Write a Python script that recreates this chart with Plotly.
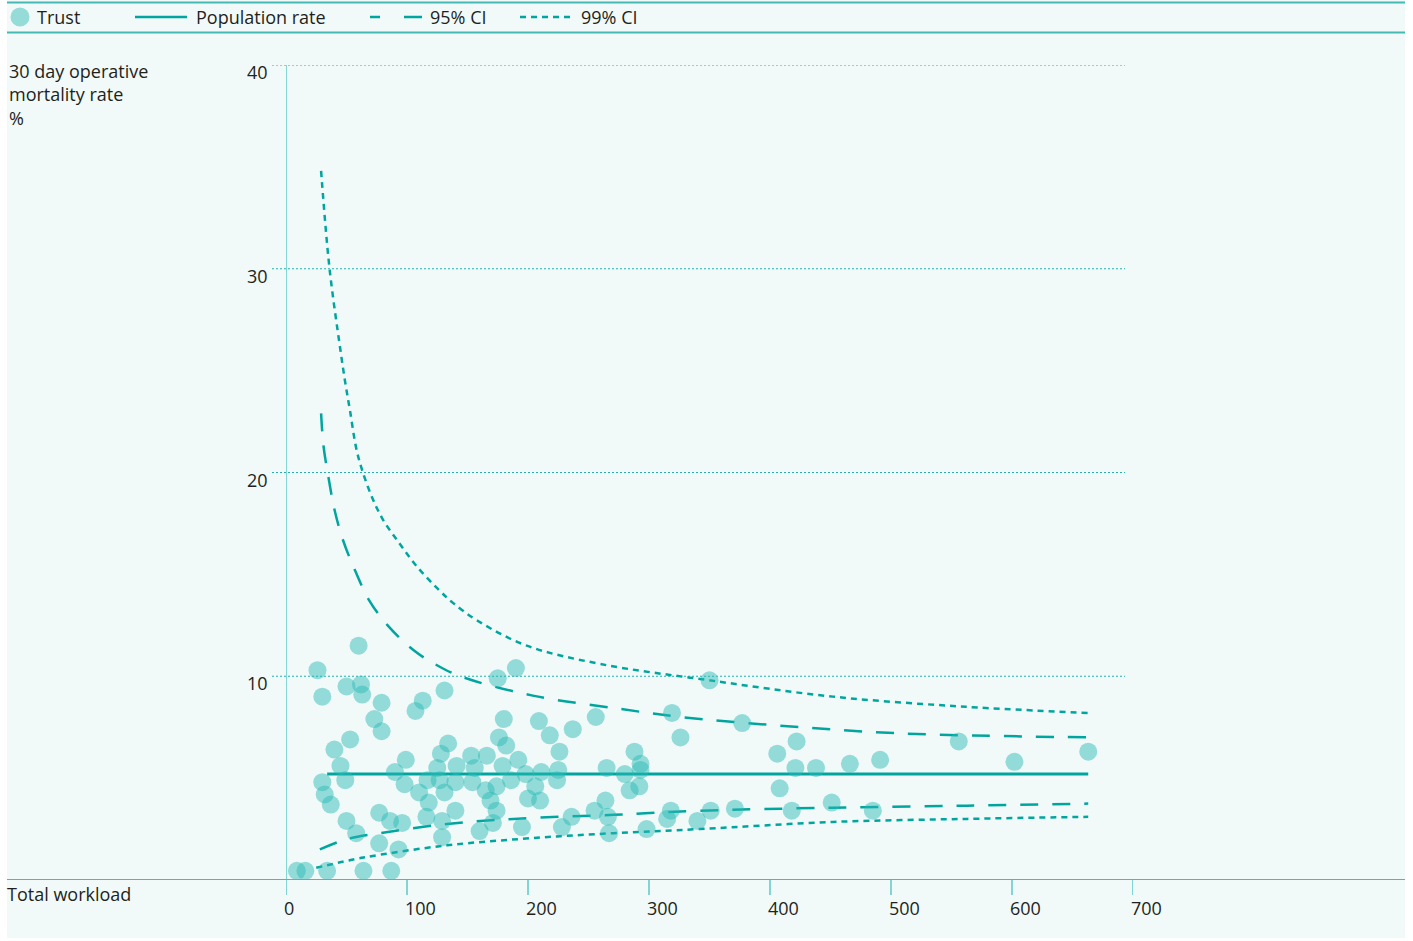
import plotly.graph_objects as go

# Trust results: total workload (cases) and 30 day operative mortality rate (%)
trust_workload = [
    60, 26, 50, 62, 63, 30, 79, 113, 107, 131, 73, 79, 53, 40, 45, 30, 49, 32, 37, 50,
    58, 77, 86, 96, 77, 93, 9, 16, 34, 64, 87, 99, 90, 98, 110, 118, 116, 129, 129, 134,
    128, 125, 117, 127, 131,
    190, 175, 180, 209, 218, 237, 256, 176, 182, 226, 153, 166, 192, 141, 156, 179, 198, 211, 225, 154,
    140, 186, 174, 206, 224, 165, 169, 200, 210, 140, 174, 171, 264, 255, 266, 236, 228, 267, 195, 160,
    265,
    350, 319, 377, 326, 288, 293, 293, 280, 292, 284, 318, 315, 351, 371, 340, 298, 406, 408,
    556, 602, 663, 491, 466, 438, 421, 422, 418, 451, 485,
]
trust_mortality = [
    11.5, 10.3, 9.5, 9.6, 9.1, 9.0, 8.7, 8.8, 8.3, 9.3, 7.9, 7.3, 6.9, 6.4, 5.6, 4.8, 4.9, 4.2, 3.7, 2.9,
    2.3, 3.3, 2.9, 2.8, 1.8, 1.5, 0.45, 0.45, 0.45, 0.45, 0.45, 5.9, 5.3, 4.7, 4.3, 3.8, 3.1, 2.9, 2.1, 6.7,
    6.2, 5.5, 4.9, 4.9, 4.3,
    10.4, 9.9, 7.9, 7.8, 7.1, 7.4, 8.0, 7.0, 6.6, 6.3, 6.1, 6.1, 5.9, 5.6, 5.5, 5.6, 5.2, 5.3, 5.4, 4.8,
    4.8, 4.9, 4.6, 4.6, 4.9, 4.4, 3.9, 4.0, 3.9, 3.4, 3.4, 2.8, 3.9, 3.4, 3.1, 3.1, 2.6, 2.3, 2.6, 2.4,
    5.5,
    9.8, 8.2, 7.7, 7.0, 6.3, 5.7, 5.4, 5.2, 4.6, 4.4, 3.4, 3.0, 3.4, 3.5, 2.9, 2.5, 6.2, 4.5,
    6.8, 5.8, 6.3, 5.9, 5.7, 5.5, 5.5, 6.8, 3.4, 3.8, 3.4,
]

# Population rate across all trusts
pop_workload = [34, 663]
pop_rate = [5.2, 5.2]

# Control limits
ci99_upper_workload = [29, 36, 45, 49, 53, 58, 63, 71, 80, 94, 108, 127, 138, 159, 199, 260, 350, 452, 562, 663]
ci99_upper_rate = [34.8, 30.0, 26.0, 24.4, 23.0, 21.2, 20.1, 18.8, 17.7, 16.5, 15.4, 14.2, 13.6, 12.7, 11.5,
                   10.6, 9.8, 9.0, 8.5, 8.2]
ci95_upper_workload = [29, 31, 35, 40, 47, 57, 69, 84, 105, 123, 144, 204, 276, 326, 403, 507, 663]
ci95_upper_rate = [22.9, 21.3, 19.8, 18.2, 16.7, 15.2, 13.7, 12.5, 11.3, 10.6, 10.0, 9.05, 8.4, 8.0, 7.6, 7.2, 7.0]
ci95_lower_workload = [28, 50, 78, 133, 188, 271, 342, 452, 563, 663]
ci95_lower_rate = [1.5, 2.0, 2.3, 2.75, 3.0, 3.2, 3.4, 3.55, 3.65, 3.75]
ci99_lower_workload = [25, 64, 133, 202, 271, 342, 452, 563, 663]
ci99_lower_rate = [0.6, 1.1, 1.7, 2.05, 2.3, 2.5, 2.85, 3.0, 3.1]

x_ticks = [0, 100, 200, 300, 400, 500, 600, 700]
y_ticks = [10, 20, 30, 40]

W, H = 1413, 941
L, R, T, B = 286, 280, 65, 61
PW, PH = W - L - R, H - T - B

TEAL = "#00a59f"
AXIS = "#3cc0bd"
TEXT = "#231f20"
BG = "#f1faf9"
DOT_FILL = "rgba(40,185,180,0.47)"
FONT = "Open Sans"


def px(x):
    """Page pixel column -> paper x."""
    return (x - L) / PW


def py(y):
    """Page pixel row -> paper y."""
    return (H - B - y) / PH


fig = go.Figure()

limit_styles = [
    (ci99_upper_workload, ci99_upper_rate, "6px,5px", 2.5),
    (ci99_lower_workload, ci99_lower_rate, "6px,5px", 2.5),
    (ci95_upper_workload, ci95_upper_rate, "18px,14px", 2.5),
    (ci95_lower_workload, ci95_lower_rate, "18px,14px", 2.5),
]
for xs, ys, dash, w in limit_styles:
    fig.add_trace(go.Scatter(
        x=xs, y=ys, mode="lines",
        line=dict(color=TEAL, width=w, dash=dash, shape="spline", smoothing=1.0),
        hoverinfo="skip", showlegend=False,
    ))

fig.add_trace(go.Scatter(
    x=pop_workload, y=pop_rate, mode="lines",
    line=dict(color=TEAL, width=3), showlegend=False,
))

fig.add_trace(go.Scatter(
    x=trust_workload, y=trust_mortality, mode="markers",
    marker=dict(size=18, color=DOT_FILL, line=dict(width=0)),
    cliponaxis=False, showlegend=False,
))

shapes = []
# panel background
shapes.append(dict(type="rect", xref="paper", yref="paper",
                   x0=px(7), x1=px(1405), y0=py(938), y1=py(0),
                   fillcolor=BG, line=dict(width=0), layer="below"))
# header rules
for yy in (2.5, 32.5):
    shapes.append(dict(type="line", xref="paper", yref="paper",
                       x0=px(7), x1=px(1405), y0=py(yy), y1=py(yy),
                       line=dict(color="#45bab4", width=2)))
# dotted gridlines
for v in y_ticks:
    shapes.append(dict(type="line", xref="paper", yref="y",
                       x0=px(272), x1=px(1125), y0=v, y1=v,
                       line=dict(color="#1fb2ae", width=1, dash="2px,2px"), layer="below"))
# y axis line
shapes.append(dict(type="line", xref="x", yref="paper",
                   x0=0, x1=0, y0=0, y1=1,
                   line=dict(color="#86d6d3", width=2), layer="below"))
# x axis line across the panel
shapes.append(dict(type="line", xref="paper", yref="y",
                   x0=px(7), x1=px(1405), y0=0, y1=0,
                   line=dict(color=AXIS, width=2)))
# x ticks
for t in x_ticks:
    shapes.append(dict(type="line", xref="x", yref="paper",
                       x0=t, x1=t, y0=0, y1=py(895),
                       line=dict(color="#5cc8c4", width=1.5)))

# legend symbols
shapes.append(dict(type="circle", xref="paper", yref="paper",
                   x0=px(10.5), x1=px(29.5), y0=py(26.5), y1=py(7.5),
                   fillcolor="#95dbd8", line=dict(width=0)))
shapes.append(dict(type="line", xref="paper", yref="paper",
                   x0=px(135), x1=px(187), y0=py(17), y1=py(17),
                   line=dict(color=TEAL, width=2.5)))
for a, b in ((370, 380), (404, 422)):
    shapes.append(dict(type="line", xref="paper", yref="paper",
                       x0=px(a), x1=px(b), y0=py(17), y1=py(17),
                       line=dict(color=TEAL, width=2.5)))
shapes.append(dict(type="line", xref="paper", yref="paper",
                   x0=px(520), x1=px(575), y0=py(17), y1=py(17),
                   line=dict(color=TEAL, width=2.5, dash="6px,5px")))

annotations = []


def label(text, x, y, xanchor="left", yanchor="middle", size=18, xref="paper", yref="paper", **kw):
    annotations.append(dict(text=text, x=x, y=y, xref=xref, yref=yref,
                            xanchor=xanchor, yanchor=yanchor, showarrow=False,
                            align="left", font=dict(family=FONT, size=size, color=TEXT), **kw))


label("Trust", px(35), py(17))
label("Population rate", px(194), py(17))
label("95% CI", px(428), py(17))
label("99% CI", px(579), py(17))

label("30 day operative<br>mortality rate<br>%", px(7), py(57), yanchor="top")
label("Total workload", px(5), py(894))

for v in y_ticks:
    label(str(v), px(270), v, xanchor="right", yref="y", yshift=-7)
for t in x_ticks:
    label(str(t), t, py(908), xref="x", xshift=-4)

fig.update_layout(
    width=W, height=H,
    margin=dict(l=L, r=R, t=T, b=B, pad=0),
    paper_bgcolor="white", plot_bgcolor=BG,
    xaxis=dict(range=[0, 700], showgrid=False, zeroline=False, showline=False,
               showticklabels=False, ticks=""),
    yaxis=dict(range=[0, 40], showgrid=False, zeroline=False, showline=False,
               showticklabels=False, ticks=""),
    shapes=shapes, annotations=annotations,
    showlegend=False,
)

fig.write_html("out.html")
